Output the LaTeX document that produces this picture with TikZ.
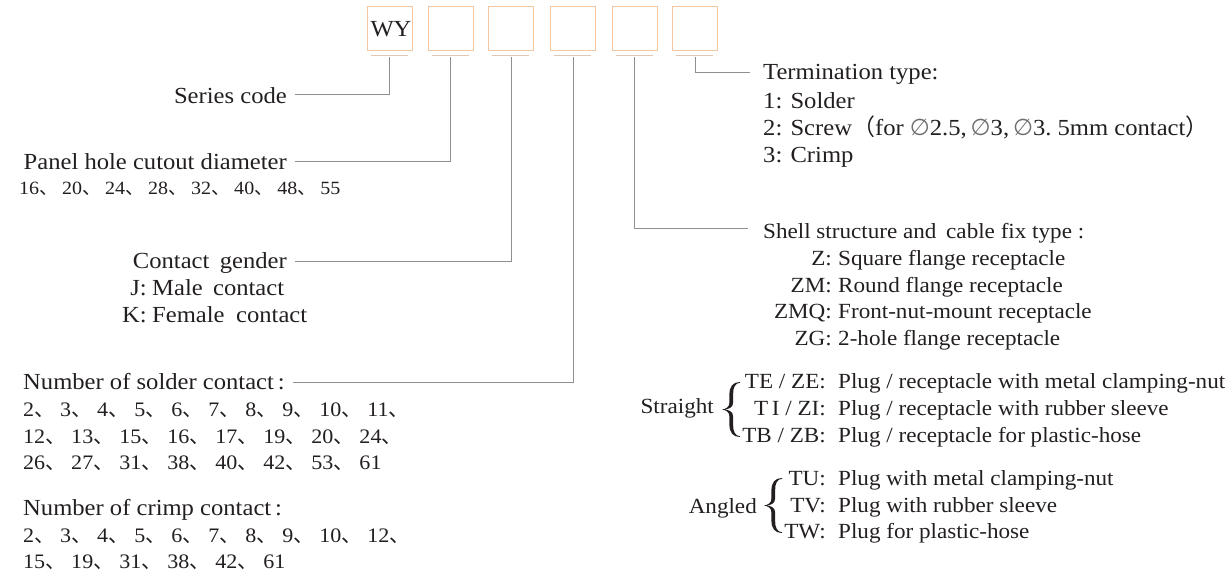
\documentclass[tikz,border=0pt]{standalone}
\usepackage{fontspec}
\setmainfont{Liberation Serif}[FakeStretch=1.07]
\newfontfamily\cjk{Noto Sans CJK SC}
\newfontfamily\sym{DejaVu Sans}
\definecolor{ink}{HTML}{231F20}
\definecolor{ln}{HTML}{8F8F8F}
\definecolor{bx}{HTML}{F3C8A0}
\definecolor{barc}{HTML}{DCC8B4}
\newcommand\fh{\fontsize{23}{27}\selectfont}
\newcommand\fr{\fontsize{21.6}{26}\selectfont}
\newcommand\fnum{\fontsize{18.7}{22}\selectfont}
\newcommand\fsol{\fontsize{20.6}{24}\selectfont}
\newcommand\pcm{\makebox[23pt][l]{\cjk 、}}
\newcommand\scm{\makebox[26pt][l]{\cjk 、}}
\newcommand\dia{{\sym\color{ink!65}∅}}
\begin{document}
\begin{tikzpicture}[x=1pt,y=-1pt,
  codebox/.style={draw=bx,line width=1pt,minimum width=45pt,minimum height=44pt,inner sep=0pt,fill=white},
  barline/.style={draw=barc,line width=1.3pt},
  conn/.style={draw=ln,line width=0.9pt},
  lt/.style={inner sep=0pt,text=ink,font=\fh},
  rt/.style={inner sep=0pt,text=ink,font=\fr},
  bw/.style={anchor=base west},
  be/.style={anchor=base east},
  bigbrace/.pic={
    \fill[ink] (9,-27.5) .. controls (2,-27.5) and (-1.6,-23) .. (-1.6,-15)
      -- (-1.6,-7) .. controls (-1.6,-2.5) and (-5,-0.5) .. (-9,0)
      .. controls (-5,0.5) and (-1.6,2.5) .. (-1.6,7)
      -- (-1.6,15) .. controls (-1.6,23) and (2,27.5) .. (9,27.5)
      -- (9,26.8) .. controls (4,26.3) and (2.1,22) .. (2.1,15)
      -- (2.1,7) .. controls (2.1,2) and (-2,0.3) .. (-7,0)
      .. controls (-2,-0.3) and (2.1,-2) .. (2.1,-7)
      -- (2.1,-15) .. controls (2.1,-22) and (4,-26.3) .. (9,-26.8) -- cycle;
  }]
\useasboundingbox (0,0) rectangle (1228,578);
% code boxes
\node[codebox,text=ink,font=\fh] (b1) at (389.5,29) {\raisebox{-1pt}{\hspace{3pt}WY}};
\node[codebox] (b2) at (450.5,29) {};
\node[codebox] (b3) at (511,29) {};
\node[codebox] (b4) at (573,29) {};
\node[codebox] (b5) at (634.5,29) {};
\node[codebox] (b6) at (695,29) {};
\foreach \b in {b1,b2,b3,b4,b5,b6}{
  \draw[barline] ([xshift=-19pt,yshift=-4pt]\b.south) -- ([xshift=18pt,yshift=-4pt]\b.south);
}
% left side
\node[lt,be] (sc) at (287,103) {Series code};
\node[lt,be] (ph) at (287,169) {Panel hole cutout diameter};
\node[lt,bw,font=\fnum] (phn) at (19,194) {16\pcm 20\pcm 24\pcm 28\pcm 32\pcm 40\pcm 48\pcm 55};
\node[lt,be] (cg) at (287,268) {Contact\hspace{0.45em}gender};
\node[lt,be] (cgj) at (147,295) {J:};
\node[lt,bw] (cgjd) at (152,295) {Male\hspace{0.45em}contact};
\node[lt,be] (cgk) at (147,322) {K:};
\node[lt,bw] (cgkd) at (152,322) {Female\hspace{0.5em}contact};
\node[lt,bw] (sol) at (23,389) {Number of solder contact\,:};
\node[lt,bw,font=\fsol] (sol1) at (23,416) {2\scm 3\scm 4\scm 5\scm 6\scm 7\scm 8\scm 9\scm 10\scm 11{\cjk 、}};
\node[lt,bw,font=\fsol] (sol2) at (23,443) {12\scm 13\scm 15\scm 16\scm 17\scm 19\scm 20\scm 24{\cjk 、}};
\node[lt,bw,font=\fsol] (sol3) at (23,469) {26\scm 27\scm 31\scm 38\scm 40\scm 42\scm 53\scm 61};
\node[lt,bw] (cr) at (23,515) {Number of crimp contact\,:};
\node[lt,bw,font=\fsol] (cr1) at (23,542) {2\scm 3\scm 4\scm 5\scm 6\scm 7\scm 8\scm 9\scm 10\scm 12{\cjk 、}};
\node[lt,bw,font=\fsol] (cr2) at (23,568) {15\scm 19\scm 31\scm 38\scm 42\scm 61};
% right side: termination
\node[lt,bw] (tt) at (763,79) {Termination type:};
\node[lt,bw] (tt1) at (763,108) {1: Solder};
\node[lt,bw] (tt2) at (763,135) {2: Screw{\cjk （}for \dia2.5,\,\dia3,\,\dia3.\ 5mm contact{\cjk ）}};
\node[lt,bw] (tt3) at (763,162) {3: Crimp};
% shell structure
\node[rt,bw] (sh) at (763,238) {Shell structure and\hspace{0.45em}cable fix type :};
\node[rt,be] (z1) at (832,265) {Z:};
\node[rt,bw] (z1d) at (838,265) {Square flange receptacle};
\node[rt,be] (z2) at (832,292) {ZM:};
\node[rt,bw] (z2d) at (838,292) {Round flange receptacle};
\node[rt,be] (z3) at (832,318) {ZMQ:};
\node[rt,bw] (z3d) at (838,318) {Front-nut-mount receptacle};
\node[rt,be] (z4) at (832,345) {ZG:};
\node[rt,bw] (z4d) at (838,345) {2-hole flange receptacle};
% straight
\node[rt,be] (st) at (714,413) {Straight};
\pic at (731,409.5) {bigbrace};
\node[rt,be] (s1) at (826,388) {TE / ZE:};
\node[rt,bw] (s1d) at (838,388) {Plug / receptacle with metal clamping-nut};
\node[rt,be] (s2) at (826,415) {T\,I / ZI:};
\node[rt,bw] (s2d) at (838,415) {Plug / receptacle with rubber sleeve};
\node[rt,be] (s3) at (826,442) {TB / ZB:};
\node[rt,bw] (s3d) at (838,442) {Plug / receptacle for plastic-hose};
% angled
\node[rt,be] (an) at (757,513) {Angled};
\pic at (773,505.5) {bigbrace};
\node[rt,be] (a1) at (826,485) {TU:};
\node[rt,bw] (a1d) at (838,485) {Plug with metal clamping-nut};
\node[rt,be] (a2) at (826,512) {TV:};
\node[rt,bw] (a2d) at (838,512) {Plug with rubber sleeve};
\node[rt,be] (a3) at (826,538) {TW:};
\node[rt,bw] (a3d) at (838,538) {Plug for plastic-hose};
% connectors
\draw[conn] ([yshift=-6pt]b1.south) |- ([xshift=8pt,yshift=9pt]sc.base east);
\draw[conn] ([yshift=-6pt]b2.south) |- ([xshift=8pt,yshift=8pt]ph.base east);
\draw[conn] ([yshift=-6pt]b3.south) |- ([xshift=8pt,yshift=7pt]cg.base east);
\draw[conn] ([yshift=-6pt]b4.south) |- ([xshift=8pt,yshift=7pt]sol.base east);
\draw[conn] ([yshift=-6pt]b5.south) |- ([xshift=-15pt,yshift=10pt]sh.base west);
\draw[conn] ([yshift=-6pt]b6.south) |- ([xshift=-13pt,yshift=7pt]tt.base west);
\end{tikzpicture}
\end{document}
